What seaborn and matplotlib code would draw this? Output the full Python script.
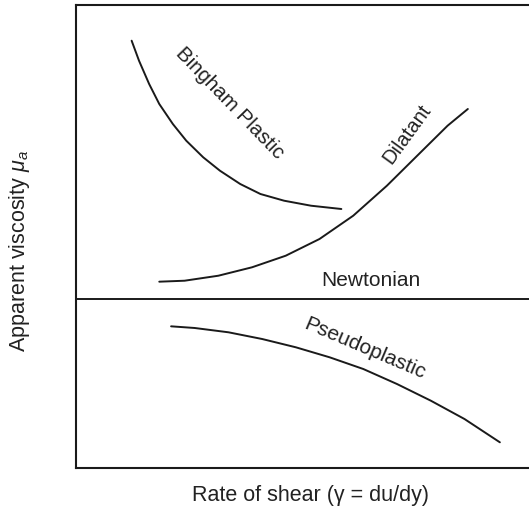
import matplotlib
matplotlib.use("Agg")
import matplotlib.pyplot as plt
import seaborn as sns
import pandas as pd

# Data (axes units: 0-100 in both directions)
bingham_x = [12.14, 13.75, 15.96, 18.17, 21.13, 24.06, 27.75, 31.41, 35.83,
             40.24, 45.41, 51.28, 57.90]
bingham_y = [92.29, 87.97, 82.94, 78.62, 74.30, 70.69, 67.11, 64.21, 61.34,
             59.18, 57.73, 56.65, 55.94]

dilatant_x = [18.17, 23.69, 31.06, 38.41, 45.76, 53.13, 60.49, 67.84, 75.21,
              81.08, 85.50]
dilatant_y = [40.24, 40.45, 41.53, 43.35, 45.85, 49.46, 54.49, 60.97, 68.19,
              73.93, 77.54]

newtonian_x = [0, 100]
newtonian_y = [36.5, 36.5]

pseudo_x = [20.75, 25.89, 33.27, 40.62, 47.97, 55.34, 62.69, 70.04, 77.42,
            84.77, 92.49]
pseudo_y = [30.60, 30.24, 29.31, 27.86, 26.07, 23.91, 21.38, 18.14, 14.54,
            10.58, 5.55]

labels = ["Bingham Plastic", "Dilatant", "Newtonian", "Pseudoplastic"]
x_label = "Rate of shear (γ = du/dy)"
y_label = r"Apparent viscosity $\mu_a$"

sns.set_style("white")
plt.rcParams['font.family'] = ['Liberation Sans', 'DejaVu Sans']
plt.rcParams['mathtext.fontset'] = 'custom'
plt.rcParams['mathtext.rm'] = 'Liberation Sans'
plt.rcParams['mathtext.it'] = 'Liberation Sans:italic'

fig = plt.figure(figsize=(5.29, 5.10), dpi=100)
ax = fig.add_axes([76/529, 1 - 469/510, 1 - 76/529 + 0.01, 463/510])

series = [
    (bingham_x, bingham_y),
    (dilatant_x, dilatant_y),
    (newtonian_x, newtonian_y),
    (pseudo_x, pseudo_y),
]
frames = []
for name, (xs, ys) in zip(labels, series):
    frames.append(pd.DataFrame({"x": xs, "y": ys, "curve": name}))
df = pd.concat(frames, ignore_index=True)

ink = "#1a1a1a"
for name in labels:
    sub = df[df["curve"] == name]
    sns.lineplot(data=sub, x="x", y="y", ax=ax, color=ink, lw=1.4,
                 sort=False, estimator=None)
    
ax.set_xlabel("")
ax.set_ylabel("")
ax.set_xlim(0, 100)
ax.set_ylim(0, 100)
ax.set_xticks([])
ax.set_yticks([])
ax.spines["right"].set_visible(False)
for s in ["left", "top", "bottom"]:
    ax.spines[s].set_color(ink)
    ax.spines[s].set_linewidth(1.5)

tc = "#222222"
ax.text(33.6, 79.0, labels[0], rotation=-46, ha="center", va="center",
        fontsize=14.8, color=tc, rotation_mode="anchor")
ax.text(72.2, 72.3, labels[1], rotation=54, ha="center", va="center",
        fontsize=14.5, color=tc, rotation_mode="anchor")
ax.text(64.3, 40.8, labels[2], ha="center", va="center",
        fontsize=15, color=tc)
ax.text(63.0, 25.9, labels[3], rotation=-23, ha="center", va="center",
        fontsize=15, color=tc, rotation_mode="anchor")

fig.text(311/529, 1 - 496/510, x_label, ha="center", va="center",
         fontsize=15.5, color=tc)
fig.text(20/529, 1 - 251/510, y_label, ha="center", va="center",
         rotation=90, fontsize=15.5, color=tc)

fig.savefig("out.png", dpi=100)
